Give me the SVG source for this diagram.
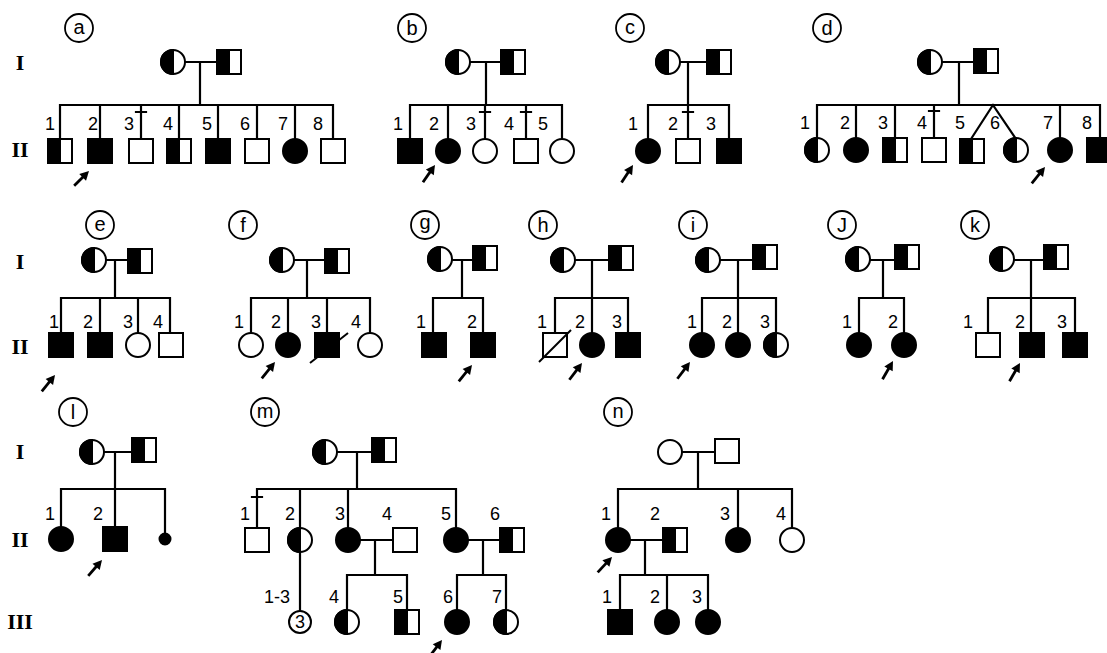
<svg xmlns="http://www.w3.org/2000/svg" xmlns:xlink="http://www.w3.org/1999/xlink" width="1107" height="653" viewBox="0 0 1107 653">
<style>
.ln{stroke:#000;stroke-width:2.2;fill:none;stroke-linecap:square}
.o{fill:#fff;stroke:#000;stroke-width:2}
.k{fill:#000;stroke:#000;stroke-width:2}
.sl{stroke:#000;stroke-width:2}
.num{font-family:"Liberation Sans",Arial,sans-serif;font-size:18px;text-anchor:middle;fill:#000}
.gen{font-family:"Liberation Serif","Times New Roman",serif;font-size:22px;font-weight:bold;text-anchor:middle;fill:#000}
.pl{font-family:"Liberation Sans",Arial,sans-serif;font-size:20px;text-anchor:middle;fill:#000}
.plc{fill:none;stroke:#000;stroke-width:1.8}
</style>
<defs>
<g id="cO"><circle r="12" class="o"/></g>
<g id="cF"><circle r="12" class="k"/></g>
<g id="cH"><circle r="12" class="o"/><path d="M0,-12 A12,12 0 0 0 0,12 Z" class="k"/></g>
<g id="sO"><rect x="-12" y="-12" width="24" height="24" class="o"/></g>
<g id="sF"><rect x="-12" y="-12" width="24" height="24" class="k"/></g>
<g id="sH"><rect x="-12" y="-12" width="24" height="24" class="o"/><rect x="-12" y="-12" width="12" height="24" class="k"/></g>
<g id="arrow"><line x1="-21" y1="0" x2="-6" y2="0" stroke="#000" stroke-width="2.8"/><path d="M0,0 L-9,-4.8 L-9,4.8 Z" fill="#000"/></g>
</defs>
<rect width="1107" height="653" fill="#fff"/>

<!-- generation labels -->
<g id="gen-labels">
<text class="gen" x="20" y="70">I</text>
<text class="gen" x="20" y="157">II</text>
<text class="gen" x="20" y="269">I</text>
<text class="gen" x="20" y="354">II</text>
<text class="gen" x="20" y="459">I</text>
<text class="gen" x="20" y="547">II</text>
<text class="gen" x="20" y="629">III</text>
</g>

<!-- panel letters -->
<g id="panel-letters">
<circle class="plc" cx="79" cy="28" r="14"/><text class="pl" x="79" y="34">a</text>
<circle class="plc" cx="412" cy="28" r="14"/><text class="pl" x="412" y="35">b</text>
<circle class="plc" cx="630" cy="28" r="14"/><text class="pl" x="630" y="34">c</text>
<circle class="plc" cx="827" cy="28" r="14"/><text class="pl" x="827" y="35">d</text>
<circle class="plc" cx="100" cy="225" r="14"/><text class="pl" x="100" y="231">e</text>
<circle class="plc" cx="243" cy="225" r="14"/><text class="pl" x="243" y="232">f</text>
<circle class="plc" cx="425" cy="225" r="14"/><text class="pl" x="425" y="229">g</text>
<circle class="plc" cx="543" cy="225" r="14"/><text class="pl" x="543" y="232">h</text>
<circle class="plc" cx="693" cy="225" r="14"/><text class="pl" x="693" y="232">i</text>
<circle class="plc" cx="842" cy="225" r="14"/><text class="pl" x="842" y="232">J</text>
<circle class="plc" cx="975" cy="225" r="14"/><text class="pl" x="975" y="232">k</text>
<circle class="plc" cx="73" cy="412" r="14"/><text class="pl" x="73" y="419">l</text>
<circle class="plc" cx="265" cy="412" r="14"/><text class="pl" x="265" y="418">m</text>
<circle class="plc" cx="618" cy="412" r="14"/><text class="pl" x="618" y="418">n</text>
</g>

<!-- connectors -->
<g id="connectors" class="ln">
<!-- a -->
<path d="M173,62 H229 M200,62 V105 M60,105 H333 M60,105 V151 M100,105 V151 M141,105 V151 M179,105 V151 M218,105 V151 M257,105 V151 M295,105 V151 M333,105 V151 M136,112 H146"/>
<!-- b -->
<path d="M458,62 H513 M486,62 V105 M410,105 H562 M410,105 V151 M448,105 V151 M485,105 V151 M526,105 V151 M562,105 V151 M480,112 H490 M521,112 H531"/>
<!-- c -->
<path d="M668,62 H719 M688,62 V105 M648,105 H729 M648,105 V151 M688,105 V151 M729,105 V151 M683,112 H693"/>
<!-- d -->
<path d="M930,62 H986 M959,62 V105 M817,105 H1100 M817,105 V150 M856,105 V150 M895,105 V150 M934,105 V150 M1060,105 V150 M1100,105 V150 M929,111 H939 M993,105 L971,139 M993,105 L1016,139"/>
<!-- e -->
<path d="M94,260 H140 M115,260 V298 M61,298 H170 M61,298 V345 M100,298 V345 M138,298 V345 M170,298 V345"/>
<!-- f -->
<path d="M282,260 H337 M307,260 V298 M251,298 H370 M251,298 V345 M288,298 V345 M327,298 V345 M370,298 V345"/>
<!-- g -->
<path d="M440,260 H485 M462,260 V298 M433,298 H483 M433,298 V345 M483,298 V345"/>
<!-- h -->
<path d="M563,260 H621 M592,260 V298 M555,298 H628 M555,298 V345 M592,298 V345 M628,298 V345"/>
<!-- i -->
<path d="M708,260 H765 M738,260 V298 M702,298 H776 M702,298 V345 M738,298 V345 M776,298 V345"/>
<!-- j -->
<path d="M858,260 H907 M883,260 V298 M859,298 H904 M859,298 V345 M904,298 V345"/>
<!-- k -->
<path d="M1002,260 H1056 M1031,260 V298 M988,298 H1075 M988,298 V345 M1031,298 V345 M1075,298 V345"/>
<!-- l -->
<path d="M92,452 H144 M115,452 V489 M61,489 H165 M61,489 V539 M115,489 V539 M165,489 V539"/>
<!-- m -->
<path d="M325,452 H384 M357,452 V489 M257,489 H456 M257,489 V540 M300,489 V622 M348,489 V540 M456,489 V540 M252,497 H262 M348,540 H405 M375,540 V575 M347,575 H407 M347,575 V622 M407,575 V622 M456,540 H512 M483,540 V575 M457,575 H506 M457,575 V622 M506,575 V622"/>
<!-- n -->
<path d="M670,452 H727 M698,452 V489 M618,489 H792 M618,489 V540 M738,489 V540 M792,489 V540 M618,540 H675 M645,540 V575 M620,575 H708 M620,575 V622 M667,575 V622 M708,575 V622"/>
</g>

<!-- panel a -->
<g id="a-I1"><use xlink:href="#cH" x="173" y="62"/></g>
<g id="a-I2"><use xlink:href="#sH" x="229" y="62"/></g>
<g id="a-II1"><use xlink:href="#sH" x="60" y="151"/></g>
<g id="a-II2"><use xlink:href="#sF" x="100" y="151"/></g>
<g id="a-II3"><use xlink:href="#sO" x="141" y="151"/></g>
<g id="a-II4"><use xlink:href="#sH" x="179" y="151"/></g>
<g id="a-II5"><use xlink:href="#sF" x="218" y="151"/></g>
<g id="a-II6"><use xlink:href="#sO" x="257" y="151"/></g>
<g id="a-II7"><use xlink:href="#cF" x="295" y="151"/></g>
<g id="a-II8"><use xlink:href="#sO" x="333" y="151"/></g>
<g id="a-labels"><text class="num" x="50" y="130">1</text><text class="num" x="93" y="130">2</text><text class="num" x="129" y="130">3</text><text class="num" x="168" y="130">4</text><text class="num" x="207" y="130">5</text><text class="num" x="245" y="130">6</text><text class="num" x="283" y="130">7</text><text class="num" x="318" y="130">8</text></g>
<g id="a-arrow"><use xlink:href="#arrow" transform="translate(89,171) rotate(-45)"/></g>

<!-- panel b -->
<g id="b-I1"><use xlink:href="#cH" x="458" y="62"/></g>
<g id="b-I2"><use xlink:href="#sH" x="513" y="62"/></g>
<g id="b-II1"><use xlink:href="#sF" x="410" y="151"/></g>
<g id="b-II2"><use xlink:href="#cF" x="448" y="151"/></g>
<g id="b-II3"><use xlink:href="#cO" x="485" y="151"/></g>
<g id="b-II4"><use xlink:href="#sO" x="526" y="151"/></g>
<g id="b-II5"><use xlink:href="#cO" x="562" y="151"/></g>
<g id="b-labels"><text class="num" x="398" y="130">1</text><text class="num" x="434" y="130">2</text><text class="num" x="471" y="130">3</text><text class="num" x="509" y="130">4</text><text class="num" x="543" y="130">5</text></g>
<g id="b-arrow"><use xlink:href="#arrow" transform="translate(435,165) rotate(-55)"/></g>

<!-- panel c -->
<g id="c-I1"><use xlink:href="#cH" x="668" y="62"/></g>
<g id="c-I2"><use xlink:href="#sH" x="719" y="62"/></g>
<g id="c-II1"><use xlink:href="#cF" x="648" y="151"/></g>
<g id="c-II2"><use xlink:href="#sO" x="688" y="151"/></g>
<g id="c-II3"><use xlink:href="#sF" x="729" y="151"/></g>
<g id="c-labels"><text class="num" x="633" y="130">1</text><text class="num" x="673" y="130">2</text><text class="num" x="711" y="130">3</text></g>
<g id="c-arrow"><use xlink:href="#arrow" transform="translate(633,165) rotate(-57)"/></g>

<!-- panel d -->
<g id="d-I1"><use xlink:href="#cH" x="930" y="62"/></g>
<g id="d-I2"><use xlink:href="#sH" x="986" y="61"/></g>
<g id="d-II1"><use xlink:href="#cH" x="817" y="150"/></g>
<g id="d-II2"><use xlink:href="#cF" x="856" y="150"/></g>
<g id="d-II3"><use xlink:href="#sH" x="895" y="150"/></g>
<g id="d-II4"><use xlink:href="#sO" x="934" y="150"/></g>
<g id="d-II5"><use xlink:href="#sH" x="972" y="151"/></g>
<g id="d-II6"><use xlink:href="#cH" x="1016" y="150"/></g>
<g id="d-II7"><use xlink:href="#cF" x="1060" y="150"/></g>
<g id="d-II8"><use xlink:href="#sF" x="1099" y="150"/></g>
<g id="d-labels"><text class="num" x="805" y="129">1</text><text class="num" x="845" y="129">2</text><text class="num" x="883" y="129">3</text><text class="num" x="922" y="129">4</text><text class="num" x="960" y="129">5</text><text class="num" x="995" y="129">6</text><text class="num" x="1048" y="129">7</text><text class="num" x="1087" y="129">8</text></g>
<g id="d-arrow"><use xlink:href="#arrow" transform="translate(1045,167) rotate(-51)"/></g>

<!-- panel e -->
<g id="e-I1"><use xlink:href="#cH" x="94" y="260"/></g>
<g id="e-I2"><use xlink:href="#sH" x="140" y="261"/></g>
<g id="e-II1"><use xlink:href="#sF" x="61" y="345"/></g>
<g id="e-II2"><use xlink:href="#sF" x="100" y="345"/></g>
<g id="e-II3"><use xlink:href="#cO" x="138" y="345"/></g>
<g id="e-II4"><use xlink:href="#sO" x="171" y="345"/></g>
<g id="e-labels"><text class="num" x="54" y="328">1</text><text class="num" x="88" y="328">2</text><text class="num" x="128" y="328">3</text><text class="num" x="158" y="328">4</text></g>
<g id="e-arrow"><use xlink:href="#arrow" transform="translate(55,375) rotate(-51)"/></g>

<!-- panel f -->
<g id="f-I1"><use xlink:href="#cH" x="282" y="260"/></g>
<g id="f-I2"><use xlink:href="#sH" x="337" y="261"/></g>
<g id="f-II1"><use xlink:href="#cO" x="251" y="345"/></g>
<g id="f-II2"><use xlink:href="#cF" x="288" y="345"/></g>
<g id="f-II3"><use xlink:href="#sF" x="327" y="345"/><line class="sl" x1="310" y1="363" x2="348" y2="333"/></g>
<g id="f-II4"><use xlink:href="#cO" x="370" y="345"/></g>
<g id="f-labels"><text class="num" x="239" y="328">1</text><text class="num" x="276" y="328">2</text><text class="num" x="316" y="328">3</text><text class="num" x="356" y="328">4</text></g>
<g id="f-arrow"><use xlink:href="#arrow" transform="translate(275,362) rotate(-51)"/></g>

<!-- panel g -->
<g id="g-I1"><use xlink:href="#cH" x="440" y="259"/></g>
<g id="g-I2"><use xlink:href="#sH" x="485" y="258"/></g>
<g id="g-II1"><use xlink:href="#sF" x="434" y="345"/></g>
<g id="g-II2"><use xlink:href="#sF" x="483" y="345"/></g>
<g id="g-labels"><text class="num" x="421" y="328">1</text><text class="num" x="472" y="328">2</text></g>
<g id="g-arrow"><use xlink:href="#arrow" transform="translate(472,365) rotate(-51)"/></g>

<!-- panel h -->
<g id="h-I1"><use xlink:href="#cH" x="563" y="260"/></g>
<g id="h-I2"><use xlink:href="#sH" x="621" y="258"/></g>
<g id="h-II1"><use xlink:href="#sO" x="555" y="345"/><line class="sl" x1="539" y1="362" x2="571" y2="330"/></g>
<g id="h-II2"><use xlink:href="#cF" x="592" y="345"/></g>
<g id="h-II3"><use xlink:href="#sF" x="628" y="345"/></g>
<g id="h-labels"><text class="num" x="542" y="328">1</text><text class="num" x="580" y="328">2</text><text class="num" x="617" y="328">3</text></g>
<g id="h-arrow"><use xlink:href="#arrow" transform="translate(582,363) rotate(-53)"/></g>

<!-- panel i -->
<g id="i-I1"><use xlink:href="#cH" x="708" y="260"/></g>
<g id="i-I2"><use xlink:href="#sH" x="765" y="257"/></g>
<g id="i-II1"><use xlink:href="#cF" x="702" y="345"/></g>
<g id="i-II2"><use xlink:href="#cF" x="738" y="345"/></g>
<g id="i-II3"><use xlink:href="#cH" x="776" y="345"/></g>
<g id="i-labels"><text class="num" x="692" y="328">1</text><text class="num" x="727" y="328">2</text><text class="num" x="765" y="328">3</text></g>
<g id="i-arrow"><use xlink:href="#arrow" transform="translate(690,362) rotate(-53)"/></g>

<!-- panel j -->
<g id="j-I1"><use xlink:href="#cH" x="858" y="259"/></g>
<g id="j-I2"><use xlink:href="#sH" x="907" y="257"/></g>
<g id="j-II1"><use xlink:href="#cF" x="859" y="345"/></g>
<g id="j-II2"><use xlink:href="#cF" x="904" y="345"/></g>
<g id="j-labels"><text class="num" x="847" y="328">1</text><text class="num" x="893" y="328">2</text></g>
<g id="j-arrow"><use xlink:href="#arrow" transform="translate(893,361) rotate(-60)"/></g>

<!-- panel k -->
<g id="k-I1"><use xlink:href="#cH" x="1002" y="259"/></g>
<g id="k-I2"><use xlink:href="#sH" x="1056" y="257"/></g>
<g id="k-II1"><use xlink:href="#sO" x="988" y="345"/></g>
<g id="k-II2"><use xlink:href="#sF" x="1032" y="345"/></g>
<g id="k-II3"><use xlink:href="#sF" x="1075" y="345"/></g>
<g id="k-labels"><text class="num" x="968" y="328">1</text><text class="num" x="1020" y="328">2</text><text class="num" x="1062" y="328">3</text></g>
<g id="k-arrow"><use xlink:href="#arrow" transform="translate(1020,363) rotate(-60)"/></g>

<!-- panel l -->
<g id="l-I1"><use xlink:href="#cH" x="92" y="452"/></g>
<g id="l-I2"><use xlink:href="#sH" x="144" y="450"/></g>
<g id="l-II1"><use xlink:href="#cF" x="61" y="539"/></g>
<g id="l-II2"><use xlink:href="#sF" x="115" y="539"/></g>
<g id="l-II3"><circle cx="165" cy="539" r="5.5" class="k"/></g>
<g id="l-labels"><text class="num" x="50" y="520">1</text><text class="num" x="98" y="520">2</text></g>
<g id="l-arrow"><use xlink:href="#arrow" transform="translate(102,560) rotate(-49)"/></g>

<!-- panel m -->
<g id="m-I1"><use xlink:href="#cH" x="325" y="452"/></g>
<g id="m-I2"><use xlink:href="#sH" x="384" y="450"/></g>
<g id="m-II1"><use xlink:href="#sO" x="257" y="540"/></g>
<g id="m-II2"><use xlink:href="#cH" x="300" y="540"/></g>
<g id="m-II3"><use xlink:href="#cF" x="348" y="540"/></g>
<g id="m-II4"><use xlink:href="#sO" x="405" y="540"/></g>
<g id="m-II5"><use xlink:href="#cF" x="456" y="540"/></g>
<g id="m-II6"><use xlink:href="#sH" x="512" y="540"/></g>
<g id="m-III1-3"><circle cx="300" cy="622" r="11" class="o"/><text class="num" x="300" y="628">3</text></g>
<g id="m-III4"><use xlink:href="#cH" x="347" y="622"/></g>
<g id="m-III5"><use xlink:href="#sH" x="407" y="622"/></g>
<g id="m-III6"><use xlink:href="#cF" x="457" y="622"/></g>
<g id="m-III7"><use xlink:href="#cH" x="506" y="622"/></g>
<g id="m-labels"><text class="num" x="245" y="520">1</text><text class="num" x="290" y="520">2</text><text class="num" x="340" y="520">3</text><text class="num" x="387" y="520">4</text><text class="num" x="446" y="520">5</text><text class="num" x="495" y="520">6</text><text class="num" x="277" y="603">1-3</text><text class="num" x="334" y="603">4</text><text class="num" x="398" y="603">5</text><text class="num" x="448" y="603">6</text><text class="num" x="497" y="603">7</text></g>
<g id="m-arrow"><use xlink:href="#arrow" transform="translate(442,640) rotate(-53)"/></g>

<!-- panel n -->
<g id="n-I1"><use xlink:href="#cO" x="670" y="452"/></g>
<g id="n-I2"><use xlink:href="#sO" x="727" y="451"/></g>
<g id="n-II1"><use xlink:href="#cF" x="618" y="540"/></g>
<g id="n-II2"><use xlink:href="#sH" x="675" y="540"/></g>
<g id="n-II3"><use xlink:href="#cF" x="738" y="540"/></g>
<g id="n-II4"><use xlink:href="#cO" x="792" y="540"/></g>
<g id="n-III1"><use xlink:href="#sF" x="620" y="622"/></g>
<g id="n-III2"><use xlink:href="#cF" x="667" y="622"/></g>
<g id="n-III3"><use xlink:href="#cF" x="708" y="622"/></g>
<g id="n-labels"><text class="num" x="606" y="520">1</text><text class="num" x="655" y="520">2</text><text class="num" x="725" y="520">3</text><text class="num" x="781" y="520">4</text><text class="num" x="607" y="603">1</text><text class="num" x="655" y="603">2</text><text class="num" x="697" y="603">3</text></g>
<g id="n-arrow"><use xlink:href="#arrow" transform="translate(612,557) rotate(-47)"/></g>
</svg>
